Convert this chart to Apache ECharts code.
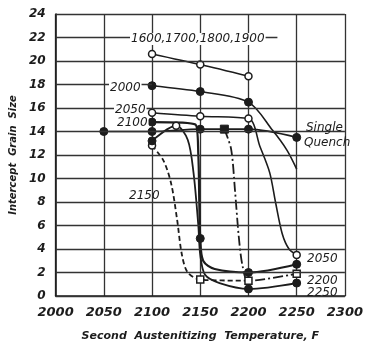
<!DOCTYPE html>
<html>
<head>
<meta charset="utf-8">
<script src="https://cdn.jsdelivr.net/npm/echarts@6/dist/echarts.min.js"></script>
<style>
  html, body { margin: 0; padding: 0; background: #fff; }
  #chart { width: 366px; height: 347px; }
</style>
</head>
<body>
<div id="chart"></div>
<script>
// Axis ticks
const xTicks = [2000, 2050, 2100, 2150, 2200, 2250, 2300];
const yGrid = [0, 2, 4, 6, 8, 10, 12, 14, 16, 20, 24];

// Grain size after a second austenitizing treatment, grouped by first treatment (F)
const t1600_1900 = [2100, 2150, 2200];
const g1600_1900 = [20.6, 19.7, 18.7];

const t2000 = [2100, 2150, 2200, 2225, 2240, 2250];
const g2000 = [17.9, 17.4, 16.5, 14.1, 12.4, 10.8];

const t2050 = [2100, 2150, 2200, 2212, 2222, 2228, 2235, 2242, 2250];
const g2050 = [15.6, 15.3, 15.1, 12.7, 10.5, 8.0, 5.3, 4.0, 3.5];

const t2100 = [2100, 2145, 2148, 2149, 2150, 2153, 2165, 2200, 2250];
const g2100 = [14.8, 14.6, 12.0, 8.0, 4.9, 3.0, 2.3, 2.0, 2.7];

const t2150 = [2100, 2112, 2120, 2126, 2131, 2137, 2150, 2200];
const g2150 = [12.8, 11.5, 9.5, 6.5, 3.5, 2.0, 1.4, 1.3];

const t2200 = [2175, 2182, 2186, 2190, 2194, 2200, 2250];
const g2200 = [14.2, 12.5, 9.0, 5.0, 2.5, 1.3, 1.9];

const t2250 = [2100, 2125, 2137, 2143, 2148, 2150, 2155, 2170, 2200, 2250];
const g2250 = [13.2, 14.5, 13.3, 10.5, 6.0, 3.5, 1.8, 1.1, 0.6, 1.1];

const tSingle = [2050, 2100, 2150, 2200, 2250];
const gSingle = [14.0, 14.0, 14.2, 14.2, 13.5];

// Marker kind per point: 'o' open circle, 'f' filled circle, 's' open square, 'S' filled square, '' none
const m1600_1900 = ['o', 'o', 'o'];
const m2000 = ['f', 'f', 'f', '', '', ''];
const m2050 = ['o', 'o', 'o', '', '', '', '', '', 'o'];
const m2100 = ['f', '', '', '', 'f', '', '', 'f', 'f'];
const m2150 = ['o', '', '', '', '', '', 's', 's'];
const m2200 = ['S', '', '', '', '', '', 's'];
const m2250 = ['f', 'o', '', '', '', '', '', '', 'f', 'f'];
const mSingle = ['f', 'f', 'f', 'f', 'f'];

const INK = '#1c1c1c';

function markerStyle(kind) {
  switch (kind) {
    case 'o': return { symbol: 'circle', symbolSize: 7, itemStyle: { color: '#fff', borderColor: INK, borderWidth: 1.5 } };
    case 'f': return { symbol: 'circle', symbolSize: 8, itemStyle: { color: INK, borderColor: INK, borderWidth: 1 } };
    case 's': return { symbol: 'rect', symbolSize: 7, itemStyle: { color: '#fff', borderColor: INK, borderWidth: 1.5 } };
    case 'S': return { symbol: 'rect', symbolSize: 8, itemStyle: { color: INK, borderColor: INK, borderWidth: 1 } };
    default: return { symbol: 'none' };
  }
}

function curve(name, xs, ys, marks, lineType, width) {
  return {
    name: name,
    type: 'line',
    smooth: 0.3,
    showSymbol: true,
    lineStyle: { color: INK, width: width || 1.6, type: lineType || 'solid' },
    data: xs.map((x, i) => Object.assign({ value: [x, ys[i]] }, markerStyle(marks[i]))),
    z: 3
  };
}

// Horizontal rules; the 18 and 22 levels only carry short leaders to their labels
const gridSeries = {
  type: 'line',
  data: [],
  silent: true,
  markLine: {
    silent: true,
    symbol: 'none',
    label: { show: false },
    lineStyle: { color: '#333', width: 1.3, type: 'solid' },
    data: yGrid.map(v => ({ yAxis: v }))
      .concat([
        [{ coord: [2000, 18] }, { coord: [2100, 18] }],
        [{ coord: [2000, 22] }, { coord: [2230, 22] }]
      ])
  },
  z: 1
};

const chart = echarts.init(document.getElementById('chart'), null, { renderer: 'canvas' });

const labelFont = 'italic 12px "DejaVu Sans"';
function tag(text, x, y, bg) {
  return {
    type: 'text', x: x, y: y, z: 10,
    style: {
      text: text, font: labelFont, fill: INK,
      backgroundColor: bg ? '#fff' : 'transparent',
      padding: bg ? [0, 1] : 0,
      textVerticalAlign: 'middle'
    }
  };
}

chart.setOption({
  animation: false,
  backgroundColor: '#fff',
  grid: { left: 55, right: 18, top: 14, bottom: 45 },
  xAxis: {
    type: 'value',
    min: xTicks[0],
    max: xTicks[xTicks.length - 1],
    interval: 50,
    name: 'Second  Austenitizing  Temperature, F',
    nameLocation: 'middle',
    nameGap: 35,
    nameTextStyle: { fontFamily: 'DejaVu Sans', fontStyle: 'italic', fontWeight: 'bold', fontSize: 11, color: INK },
    axisLine: { show: true, lineStyle: { color: INK, width: 1.6 } },
    axisTick: { show: false },
    axisLabel: {
      margin: 10, fontFamily: 'DejaVu Sans', fontStyle: 'italic', fontWeight: 'bold', fontSize: 13, color: INK,
      formatter: v => String(v)
    },
    splitLine: { show: true, showMinLine: true, showMaxLine: true, lineStyle: { color: '#333', width: 1.3 } }
  },
  yAxis: {
    type: 'value',
    min: 0,
    max: 24,
    interval: 2,
    name: 'Intercept  Grain  Size',
    nameLocation: 'middle',
    nameGap: 33,
    nameTextStyle: { fontFamily: 'DejaVu Sans', fontStyle: 'italic', fontWeight: 'bold', fontSize: 10, color: INK },
    axisLine: { show: true, lineStyle: { color: INK, width: 1.6 } },
    axisTick: { show: false },
    axisLabel: { margin: 10, fontFamily: 'DejaVu Sans', fontStyle: 'italic', fontWeight: 'bold', fontSize: 12, color: INK },
    splitLine: { show: false }
  },
  series: [
    gridSeries,
    curve('1600,1700,1800,1900', t1600_1900, g1600_1900, m1600_1900),
    curve('2000', t2000, g2000, m2000),
    curve('2050', t2050, g2050, m2050),
    curve('2100', t2100, g2100, m2100, 'solid', 2.2),
    curve('2150', t2150, g2150, m2150, [5, 3], 1.8),
    curve('2200', t2200, g2200, m2200, [10, 3, 2, 3], 1.8),
    curve('2250', t2250, g2250, m2250, 'solid', 1.8),
    curve('Single Quench', tSingle, gSingle, mSingle)
  ],
  graphic: [
    tag('1600,1700,1800,1900', 130, 39, true),
    tag('2000', 109, 88, true),
    tag('2050', 114, 110, true),
    tag('2100', 116, 123, true),
    tag('2150', 129, 196, false),
    tag('Single', 306, 128, false),
    tag('Quench', 304, 143, false),
    tag('2050', 307, 259, false),
    tag('2200', 307, 281, false),
    tag('2250', 307, 293, false)
  ]
});
</script>
</body>
</html>
